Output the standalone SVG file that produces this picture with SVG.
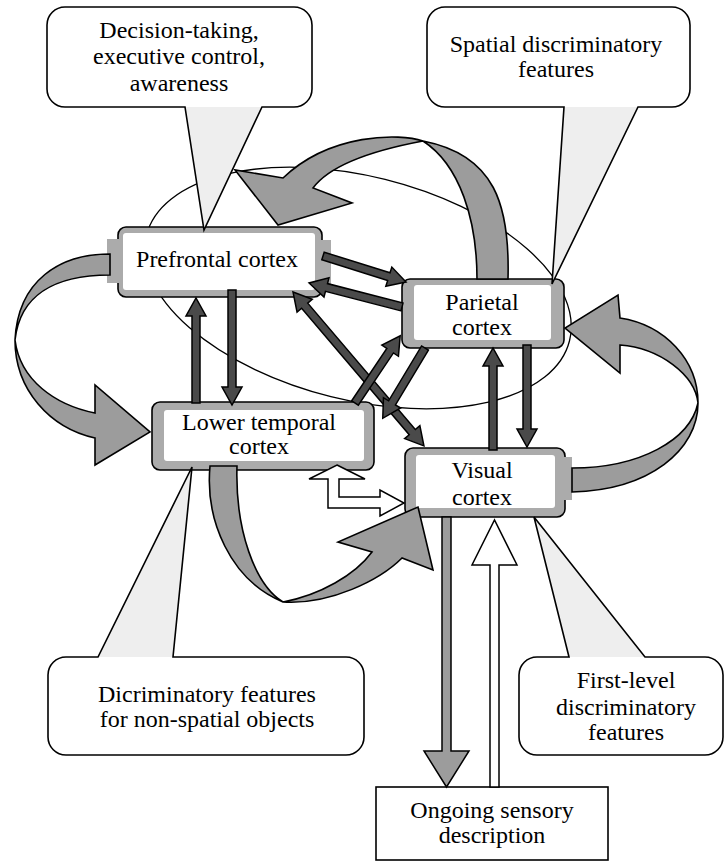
<svg xmlns="http://www.w3.org/2000/svg" width="725" height="862" viewBox="0 0 725 862" font-family="Liberation Serif, Times New Roman, serif">
<style>
text{font-size:24px;fill:#000;text-anchor:middle}
.ell{fill:none;stroke:#000;stroke-width:1.3}
.curve{fill:#9c9c9c;stroke:#000;stroke-width:1.6;stroke-linejoin:miter}
.dark{fill:#4a4a4a;stroke:#000;stroke-width:1.5;stroke-linejoin:miter}
.nodeOut{fill:#ababab;stroke:#000;stroke-width:1.6}
.nodeIn{fill:#fff}
.strip{fill:#ababab}
.cfill{fill:#fff;stroke:none}
.tail{fill:#eeeeee;stroke:none}
.cline{fill:none;stroke:#000;stroke-width:1.6}
.hollow{fill:#fff;stroke:#000;stroke-width:1.5}
.grayarrow{fill:#9c9c9c;stroke:#000;stroke-width:1.5}
.box{fill:#fff;stroke:#000;stroke-width:1.6}
</style>
<defs>
<path id="c1" d="M65,7 H294 A18 18 0 0 1 312,25 V89 A18 18 0 0 1 294,107 H262 L204,230 L185,107 H65 A18 18 0 0 1 47,89 V25 A18 18 0 0 1 65,7 Z"/>
<path id="c2" d="M445,7 H672 A18 18 0 0 1 690,25 V89 A18 18 0 0 1 672,107 H638 L552,284 L564,107 H445 A18 18 0 0 1 427,89 V25 A18 18 0 0 1 445,7 Z"/>
<path id="c3" d="M66,657 H98 L192,467 L173,657 H346 A18 18 0 0 1 364,675 V737 A18 18 0 0 1 346,755 H66 A18 18 0 0 1 48,737 V675 A18 18 0 0 1 66,657 Z"/>
<path id="c4" d="M537,657 H569 L534,517 L645,657 H705 A18 18 0 0 1 723,675 V737 A18 18 0 0 1 705,755 H537 A18 18 0 0 1 519,737 V675 A18 18 0 0 1 537,657 Z"/>
</defs>

<ellipse class="ell" cx="358" cy="288" rx="218" ry="112" transform="rotate(14 358 288)"/>

<g id="node-prefrontal">
<rect class="nodeOut" x="118" y="227" width="204" height="70" rx="8"/>
<rect class="nodeIn" x="123" y="233" width="192" height="57" rx="3"/>
<rect class="strip" x="107" y="239" width="15" height="44"/>
<rect class="strip" x="315" y="240" width="16" height="52"/>
<text x="217" y="267">Prefrontal cortex</text>
</g>
<g id="node-parietal">
<rect class="nodeOut" x="402" y="279" width="162" height="69" rx="8"/>
<rect class="nodeIn" x="414" y="285" width="137" height="55" rx="3"/>
<text x="482" y="310">Parietal</text>
<text x="482" y="335">cortex</text>
</g>
<g id="node-lowertemporal">
<rect class="nodeOut" x="152" y="402" width="222" height="68" rx="8"/>
<rect class="nodeIn" x="164" y="410" width="200" height="51" rx="3"/>
<text x="259" y="430">Lower temporal</text>
<text x="259" y="454">cortex</text>
</g>
<g id="node-visual">
<rect class="nodeOut" x="405" y="448" width="160" height="69" rx="8"/>
<rect class="nodeIn" x="416" y="455" width="139" height="53" rx="3"/>
<rect class="strip" x="555" y="457" width="17" height="43"/>
<text x="482" y="478">Visual</text>
<text x="482" y="505">cortex</text>
</g>
<g id="node-ongoing">
<rect class="box" x="376" y="787" width="232" height="73"/>
<text x="492" y="818">Ongoing sensory</text>
<text x="492" y="843">description</text>
</g>

<g id="connectors">
<path class="curve" d="M508,279 C510,205 495,155 423,141 C400,133 330,133 283,178 L235,170 L278,225 L352,203 L313,188 C330,165 375,150 423,141 C460,165 477,220 477,279 Z"/>
<path class="curve" d="M110,254 C60,254 18,280 15,340 C15,390 50,428 95,438 L95,465 L150,432 L95,385 L95,413 C55,405 20,380 15,340 C20,295 55,275 110,275 Z"/>
<path class="curve" d="M572,468 C640,468 690,440 698,403 C695,375 660,348 620,345 L620,373 L565,328 L618,295 L620,318 C665,325 698,360 698,403 C698,450 650,490 572,492 Z"/>
<path class="curve" d="M210,466 C205,520 230,580 283,602 C330,605 380,580 402,558 L433,570 L418,507 L338,542 L372,552 C355,575 320,595 283,602 C255,585 235,530 237,466 Z"/>

<polygon class="dark" transform="translate(323,256) rotate(17.4)" points="0,-4 69,-4 69,-10 87,0 69,10 69,4 0,4"/>
<polygon class="dark" transform="translate(402,307) rotate(194.5)" points="0,-4 78,-4 78,-10 96,0 78,10 78,4 0,4"/>
<polygon class="dark" transform="translate(293,292) rotate(49.6)" points="18,-4 184,-4 184,-10 202,0 184,10 184,4 18,4 18,10 0,0 18,-10"/>
<polygon class="dark" transform="translate(355,403) rotate(-56.1)" points="0,-4 63,-4 63,-10 81,0 63,10 63,4 0,4"/>
<polygon class="dark" transform="translate(425,348) rotate(121)" points="0,-4 64,-4 64,-10 82,0 64,10 64,4 0,4"/>
<polygon class="dark" transform="translate(196,403) rotate(-90)" points="0,-4 87,-4 87,-10 105,0 87,10 87,4 0,4"/>
<polygon class="dark" transform="translate(232,290) rotate(90)" points="0,-4 97,-4 97,-10 115,0 97,10 97,4 0,4"/>
<polygon class="dark" transform="translate(493,450) rotate(-90)" points="0,-4 84,-4 84,-10 102,0 84,10 84,4 0,4"/>
<polygon class="dark" transform="translate(527,345) rotate(90)" points="0,-4 84,-4 84,-10 102,0 84,10 84,4 0,4"/>

<polygon class="hollow" points="337,465 365,479 339,479 339,497 380,497 380,490 404,503 380,516 380,508 328,508 328,479 309,479"/>
<polygon class="grayarrow" points="442,517 451,517 451,751 469,751 446.5,787 424,751 442,751"/>
<polygon class="hollow" points="490,787 490,565 472,565 494.5,520 517,565 499,565 499,787"/>
</g>

<g id="callout-decision">
<use href="#c1" class="cfill"/>
<polygon class="tail" points="185,107 262,107 204,230"/>
<use href="#c1" class="cline"/>
<text x="179" y="38">Decision-taking,</text>
<text x="179" y="64">executive control,</text>
<text x="179" y="91">awareness</text>
</g>
<g id="callout-spatial">
<use href="#c2" class="cfill"/>
<polygon class="tail" points="564,107 638,107 552,284"/>
<use href="#c2" class="cline"/>
<text x="556" y="52">Spatial discriminatory</text>
<text x="556" y="77">features</text>
</g>
<g id="callout-nonspatial">
<use href="#c3" class="cfill"/>
<polygon class="tail" points="98,657 173,657 192,467"/>
<use href="#c3" class="cline"/>
<text x="207" y="702">Dicriminatory features</text>
<text x="207" y="727">for non-spatial objects</text>
</g>
<g id="callout-firstlevel">
<use href="#c4" class="cfill"/>
<polygon class="tail" points="569,657 645,657 534,517"/>
<use href="#c4" class="cline"/>
<text x="626" y="688">First-level</text>
<text x="626" y="715">discriminatory</text>
<text x="626" y="740">features</text>
</g>
</svg>
